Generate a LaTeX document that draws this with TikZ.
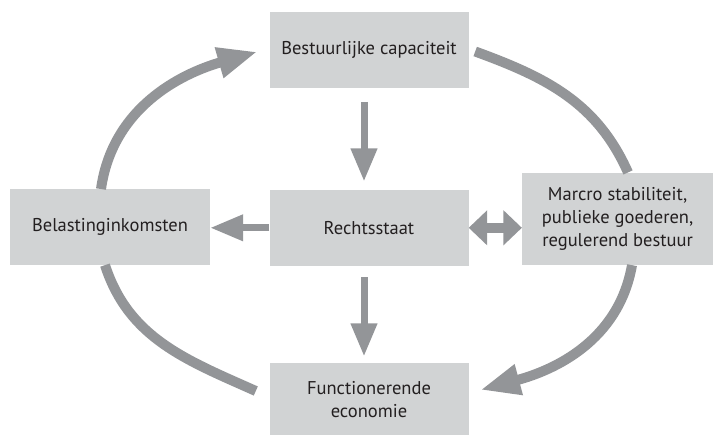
\documentclass[tikz,border=0pt]{standalone}
\usepackage{fontspec}
\setmainfont{PT Sans}
\usetikzlibrary{arrows.meta,calc}
\definecolor{boxgray}{HTML}{D1D3D4}
\definecolor{arrgray}{HTML}{939598}
\definecolor{txtcol}{HTML}{231F20}
\begin{document}
\begin{tikzpicture}[x=1pt,y=1pt,
  box/.style={fill=boxgray, draw=none, inner sep=0pt, align=center, text=txtcol,
    font=\fontsize{18.5}{22.8}\selectfont},
  thinarrow/.style={draw=arrgray, line width=7pt, -{Triangle[length=33pt,width=25pt]}},
  dblarrow/.style={draw=arrgray, line width=10pt, {Triangle[length=18.5pt,width=34pt]}-{Triangle[length=18.5pt,width=34pt]}},
  bigarc/.style={draw=arrgray, line width=10pt},
  bigarrow/.style={draw=arrgray, line width=10pt, -{Triangle[length=40pt,width=29pt]}}
]
\useasboundingbox (0,0) rectangle (713,-435);
\node[box, minimum width=199pt, minimum height=75.4pt] (bc) at (369,-50) {Bestuurlijke capaciteit};
\node[box, minimum width=199pt, minimum height=75.7pt] (rs) at (369,-227.8) {Rechtsstaat};
\node[box, minimum width=200pt, minimum height=75.7pt] (bi) at (110,-227.1) {Belastinginkomsten};
\node[box, minimum width=191pt, minimum height=92.3pt] (ms) at (617.6,-218.8) {Marcro stabiliteit,\\publieke goederen,\\regulerend bestuur};
\node[box, minimum width=199pt, minimum height=72pt] (fe) at (369,-399.2) {Functionerende\\economie};
% straight arrows
\draw[thinarrow, shorten <=14pt, shorten >=8.3pt] ([xshift=-5pt]bc.south) -- ([xshift=-5pt]rs.north);
\draw[thinarrow, shorten <=11.6pt, shorten >=6.6pt] ([xshift=-5pt]rs.south) -- ([xshift=-5pt]fe.north);
\draw[thinarrow] (rs.west) -- (rs.west -| bi.east);
\draw[dblarrow] (rs.east) -- (rs.east -| ms.west);
% curved arrows
\coordinate (c1s) at ([xshift=-9pt]bi.north);
\coordinate (c1e) at ($(bc.west)+(-11.8,-1.7)$);
\draw[bigarrow] (c1s) to[out=82,in=196] (c1e);
\coordinate (c2s) at ($(bc.east)+(6.5,-1.5)$);
\coordinate (c2e) at ([xshift=10.4pt]ms.north);
\draw[bigarc] (c2s) to[out=-20,in=114] (c2e);
\coordinate (c3s) at ([xshift=14.4pt]ms.south);
\coordinate (c3e) at ($(fe.east)+(11.5,9.2)$);
\draw[bigarrow] (c3s) to[out=-100,in=15] (c3e);
\coordinate (c4s) at ([xshift=-5pt]bi.south);
\coordinate (c4e) at ($(fe.west)+(-13.5,8.2)$);
\draw[bigarc] (c4s) to[out=-72,in=156] (c4e);
\end{tikzpicture}
\end{document}
